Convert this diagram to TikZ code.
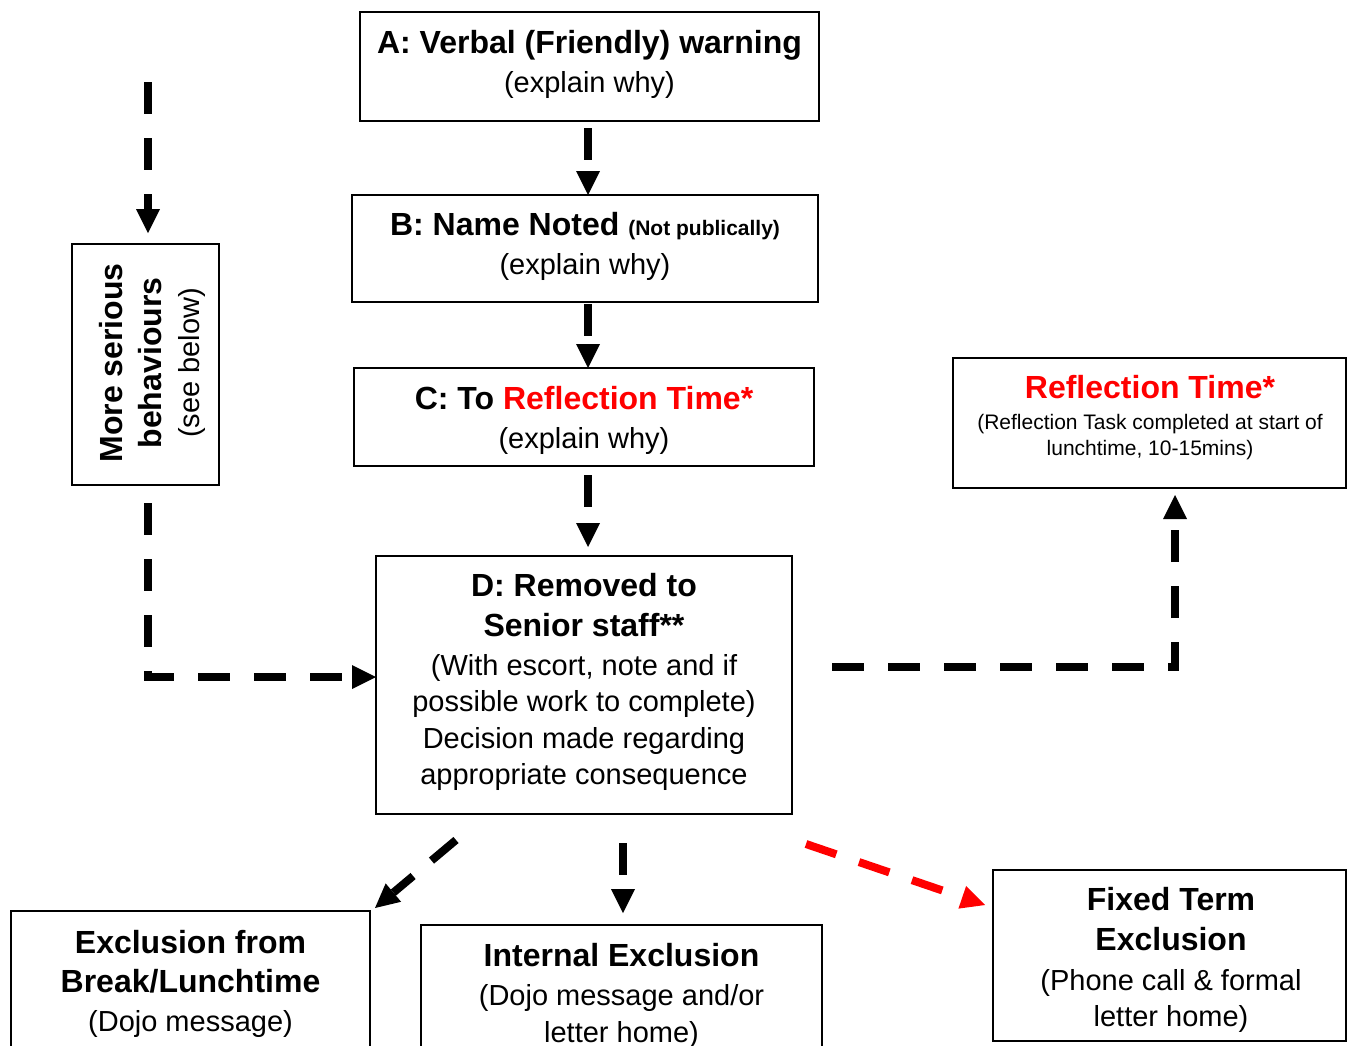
\documentclass[tikz,border=0pt]{standalone}
\usepackage{fontspec}
\setmainfont{Liberation Sans}
\usetikzlibrary{arrows.meta,calc}
\newcommand\hdfont{\fontsize{32}{40}\selectfont\bfseries}
\newcommand\smfont{\fontsize{21}{26}\selectfont}
\definecolor{refred}{RGB}{255,0,0}
\begin{document}
\begin{tikzpicture}[x=1pt,y=-1pt,
 box/.style={draw, line width=2pt, rectangle, inner sep=0pt, outer sep=0pt},
 txt/.style={align=center, inner sep=0pt, font=\fontsize{29}{36.5}\selectfont},
 arr/.style={line width=8pt, dash pattern=on 32pt off 24pt, -{Triangle[length=24pt,width=24pt,line width=0pt]}},
 ]
\useasboundingbox (0,0) rectangle (1347,1045);
\fill[white] (0,0) rectangle (1347,1045);

% boxes
\node[box, minimum width=459pt, minimum height=109pt] (A) at (589.5,66.5) {};
\node[box, minimum width=466pt, minimum height=107pt] (B) at (585,248.5) {};
\node[box, minimum width=460pt, minimum height=98pt] (C) at (584,417) {};
\node[box, minimum width=416pt, minimum height=258pt] (D) at (584,685) {};
\node[box, minimum width=147pt, minimum height=241pt] (MS) at (145.5,364.5) {};
\node[box, minimum width=393pt, minimum height=130pt] (RT) at (1149.5,423) {};
\node[box, minimum width=359pt, minimum height=140pt] (EB) at (190.5,981) {};
\node[box, minimum width=401pt, minimum height=140pt] (IE) at (621.5,995) {};
\node[box, minimum width=353pt, minimum height=171pt] (FT) at (1169.5,955.5) {};

% texts
\node[txt] (At) at (589.5,64.5) {{\hdfont A: Verbal (Friendly) warning}\\[2.5pt](explain why)};
\node[txt] (Bt) at (585,246) {{\hdfont B: Name Noted {\fontsize{21}{26}\selectfont (Not publically)}}\\[2.5pt](explain why)};
\node[txt] (Ct) at (584,420) {{\hdfont C: To {\color{refred}Reflection Time*}}\\[2.5pt](explain why)};
\node[txt] (Dt) at (584,682) {{\hdfont D: Removed to}\\[3.5pt]{\hdfont Senior staff**}\\[2.5pt](With escort, note and if\\possible work to complete)\\Decision made regarding\\appropriate consequence};
\node[txt, rotate=90] (MSt) at (152,363) {{\hdfont More serious}\\[2.5pt]{\hdfont behaviours}\\[1.5pt](see below)};
\node[txt, font=\smfont] (RTt) at (1150,418) {{\hdfont\color{refred}Reflection Time*}\\[5pt](Reflection Task completed at start of\\lunchtime, 10-15mins)};
\node[txt] (EBt) at (190.5,983.5) {{\hdfont Exclusion from}\\[2.5pt]{\hdfont Break/Lunchtime}\\[2.5pt](Dojo message)};
\node[txt] (IEt) at (621.5,996) {{\hdfont Internal Exclusion}\\[2.5pt](Dojo message and/or\\letter home)};
\node[txt] (FTt) at (1171,960) {{\hdfont Fixed Term}\\[3.5pt]{\hdfont Exclusion}\\[3.5pt](Phone call \& formal\\letter home)};

% connectors
\coordinate (mstop) at (148,82);
\draw[arr] ([xshift=-1.5pt]A.south) ++(0,7) -- ([xshift=-1.5pt]A.south |- B.north);
\draw[arr] ([xshift=3pt]B.south) ++(0,2) -- ([xshift=3pt]B.south |- C.north);
\draw[arr, shorten >=9pt] ([xshift=4pt]C.south) ++(0,9) -- ([xshift=4pt]C.south |- D.north);
\draw[arr, shorten >=11pt] (mstop) -- (mstop |- MS.north);
\draw[arr] ($(MS.south)+(2.5,18)$) |- ($(D.west)+(0,-8)$);
\draw[arr, shorten >=7pt] ($(D.east)+(40,-18)$) -| ($(RT.south)+(25.5,0)$);
\draw[arr] ($(D.south)+(-128,26)$) -- ($(EB.north east)+(5,-3)$);
\draw[arr, shorten >=12pt] ($(D.south)+(39,29)$) -- ($(IE.north)+(1.5,0)$);
\draw[arr, color=refred] ($(D.south)+(222,30)$) -- ($(FT.north west)+(-8,35)$);
\end{tikzpicture}
\end{document}
